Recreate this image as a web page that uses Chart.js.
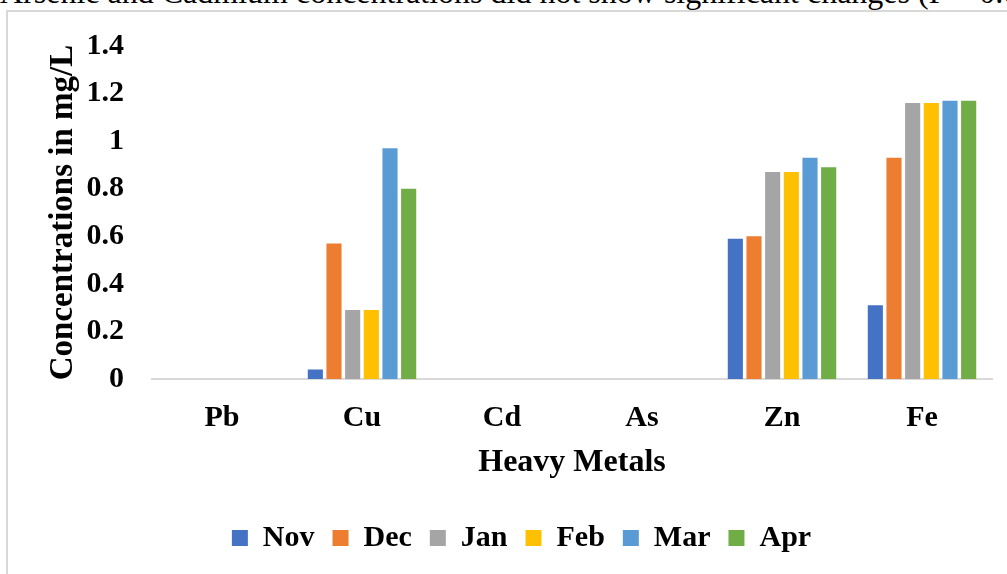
<!DOCTYPE html>
<html lang="en">

<head>
  <meta charset="UTF-8">
  <meta name="viewport" content="width=device-width, initial-scale=1.0">
  <script src="https://cdn.jsdelivr.net/npm/chart.js"></script>
  <title>Heavy Metals</title>
  <style>
    html, body {
      margin: 0;
      padding: 0;
      background: #fff;
      overflow: hidden;
    }

    .pagina {
      position: relative;
      width: 1007px;
      height: 574px;
      overflow: hidden;
    }

    /* linha de texto do artigo que fica acima da figura */
    .textoArtigo {
      position: absolute;
      left: 0px;
      top: -24px;
      font-family: "Liberation Serif", "Times New Roman", serif;
      font-size: 32px;
      line-height: 1;
      white-space: nowrap;
      color: #000;
    }

    /* moldura da figura */
    .moldura {
      position: absolute;
      left: 6px;
      top: 10px;
      width: 1100px;
      height: 700px;
      border-left: 2px solid #d9d9d9;
      border-top: 2px solid #d9d9d9;
    }

    .containerGrafico {
      position: absolute;
      left: 0;
      top: 0;
      width: 1007px;
      height: 574px;
    }
  </style>
</head>

<body>
  <div class="pagina">
    <div class="textoArtigo">Arsenic and Cadmium concentrations did not show significant changes (P &lt; 0.05)</div>
    <div class="moldura"></div>
    <div class="containerGrafico">
      <canvas id="graficoMetais"></canvas>
    </div>
  </div>

  <script>
    // metais analisados (eixo x)
    const metais = ['Pb', 'Cu', 'Cd', 'As', 'Zn', 'Fe'];

    // concentracoes em mg/L por mes
    const nov = [0, 0.04, 0, 0, 0.59, 0.31];
    const dec = [0, 0.57, 0, 0, 0.60, 0.93];
    const jan = [0, 0.29, 0, 0, 0.87, 1.16];
    const feb = [0, 0.29, 0, 0, 0.87, 1.16];
    const mar = [0, 0.97, 0, 0, 0.93, 1.17];
    const apr = [0, 0.80, 0, 0, 0.89, 1.17];

    const meses = ['Nov', 'Dec', 'Jan', 'Feb', 'Mar', 'Apr'];
    const cores = ['#4472C4', '#ED7D31', '#A5A5A5', '#FFC000', '#5B9BD5', '#70AD47'];

    // limites do eixo y
    const yMin = 0;
    const yMax = 1.4;
    const yPasso = 0.2;

    const fonte = '"Liberation Serif", "Times New Roman", serif';

    const series = [nov, dec, jan, feb, mar, apr];
    const datasets = series.map((valores, i) => ({
      label: meses[i],
      data: valores,
      backgroundColor: cores[i],
      borderWidth: 0,
      categoryPercentage: 0.8,
      barPercentage: 0.81
    }));

    const ctx = document.getElementById('graficoMetais');
    new Chart(ctx, {
      type: 'bar',
      data: {
        labels: metais,
        datasets: datasets
      },
      options: {
        responsive: true,
        maintainAspectRatio: false,
        animation: false,
        layout: {
          padding: { left: 51, right: 15, top: 41, bottom: 11 }
        },
        plugins: {
          tooltip: { enabled: false },
          legend: {
            position: 'bottom',
            labels: {
              boxWidth: 16,
              boxHeight: 16,
              padding: 18,
              color: '#000',
              font: { family: fonte, size: 30, weight: 'bold' }
            }
          }
        },
        scales: {
          x: {
            grid: { display: false, drawTicks: false },
            border: { display: true, color: '#d9d9d9', width: 2 },
            ticks: {
              padding: 21,
              color: '#000',
              font: { family: fonte, size: 30, weight: 'bold' }
            },
            title: {
              display: true,
              text: 'Heavy Metals',
              color: '#000',
              padding: { top: 0, bottom: 23 },
              font: { family: fonte, size: 32, weight: 'bold' }
            },
            afterFit: (escala) => { escala.height = 126; }
          },
          y: {
            min: yMin,
            max: yMax,
            grid: { display: false, drawTicks: false },
            border: { display: false },
            ticks: {
              stepSize: yPasso,
              padding: 28,
              color: '#000',
              font: { family: fonte, size: 30, weight: 'bold' },
              // 0, 0.2 ... 1, 1.2, 1.4 (sem o ".0")
              callback: (valor) => String(Number(valor.toFixed(1)))
            },
            title: {
              display: true,
              text: 'Concentrations in mg/L',
              color: '#000',
              padding: { top: -7, bottom: 0 },
              font: { family: fonte, size: 33, weight: 'bold' }
            },
            afterFit: (escala) => { escala.width = 101; }
          }
        }
      }
    });
  </script>
</body>

</html>
